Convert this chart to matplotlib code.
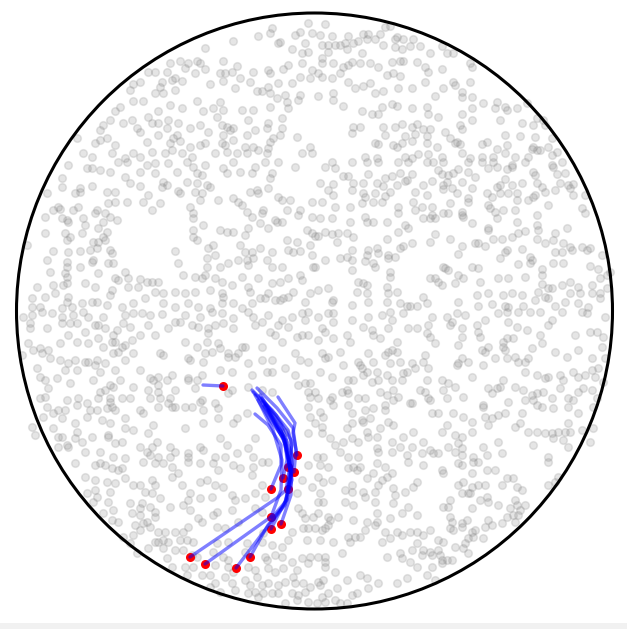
import numpy as np
import matplotlib
matplotlib.use('Agg')
import matplotlib.pyplot as plt
from matplotlib.patches import Circle, Rectangle

# canvas geometry, in pixels (y grows downward)
W, H = 627, 629
center = (314.5, 311.0)
radius = 298.0

# background particles: one list per 300x150 px tile, positions given
# in thirds of a pixel relative to the tile's upper-left corner
tile_origins = {'nw': (15, 10), 'ne': (315, 10), 'wn': (15, 160), 'en': (315, 160),
                'ws': (15, 310), 'es': (315, 310), 'sw': (15, 460), 'se': (315, 460)}

dots_nw = [770, 55, 765, 70, 795, 95, 840, 75, 855, 65, 890, 70, 880, 40, 730, 78, 655, 92, 790, 100,
           570, 115, 830, 118, 870, 100, 860, 130, 880, 125, 465, 160, 495, 152, 520, 160, 545, 152,
           555, 160, 570, 178, 625, 152, 665, 168, 400, 185, 420, 185, 455, 185, 510, 175, 540, 188,
           615, 188, 630, 188, 650, 185, 715, 185, 760, 180, 805, 178, 820, 165, 860, 160, 890, 180,
           375, 215, 355, 222, 440, 215, 470, 210, 480, 205, 500, 212, 585, 222, 625, 212, 675, 205,
           705, 215, 765, 190, 790, 220, 830, 220, 855, 200, 885, 205, 345, 240, 435, 232, 420, 250,
           445, 250, 480, 240, 660, 235, 725, 242, 740, 242, 760, 230, 765, 250, 810, 255, 855, 255,
           850, 270, 385, 272, 355, 272, 465, 285, 500, 295, 545, 272, 595, 295, 615, 275, 625, 300,
           565, 302, 680, 300, 715, 300, 765, 290, 815, 275, 820, 295, 785, 265, 315, 292, 300, 302,
           430, 302, 400, 320, 410, 340, 430, 340, 460, 330, 490, 340, 525, 355, 555, 345, 605, 320,
           620, 345, 635, 350, 645, 360, 700, 330, 760, 340, 800, 325, 800, 355, 755, 355, 285, 330,
           265, 345, 255, 360, 325, 340, 350, 330, 365, 355, 375, 365, 455, 355, 485, 375, 580, 365,
           625, 375, 655, 355, 695, 375, 720, 360, 795, 375, 775, 385, 845, 380, 185, 385, 240, 400,
           255, 390, 275, 385, 300, 405, 395, 395, 430, 375, 465, 400, 475, 385, 495, 392, 525, 410,
           555, 405, 570, 400, 620, 400, 630, 405, 655, 390, 690, 410, 715, 410, 765, 395, 760, 415,
           885, 410, 205, 430, 230, 440, 290, 430, 330, 445, 355, 430, 375, 440, 410, 425, 450, 430,
           470, 420, 500, 430, 530, 440, 600, 430, 635, 425, 665, 430, 695, 430, 730, 420, 755, 430,
           860, 430, 890, 430]

dots_ne = [30, 42, 15, 75, 50, 78, 100, 78, 145, 72, 160, 72, 195, 72, 210, 50, 225, 48, 245, 80,
           265, 88, 295, 88, 240, 88, 20, 105, 40, 105, 60, 105, 75, 105, 90, 100, 95, 118, 115, 100,
           130, 92, 155, 88, 180, 88, 205, 105, 240, 110, 260, 118, 285, 108, 315, 108, 345, 130,
           380, 108, 395, 130, 415, 130, 40, 125, 20, 145, 20, 160, 55, 160, 85, 170, 100, 165,
           110, 155, 140, 130, 135, 160, 165, 160, 190, 170, 230, 155, 255, 152, 265, 152, 305, 155,
           330, 170, 340, 185, 380, 178, 465, 160, 470, 170, 10, 190, 20, 200, 50, 205, 75, 190,
           100, 215, 120, 235, 145, 228, 165, 220, 215, 195, 235, 188, 255, 198, 330, 215, 385, 235,
           415, 215, 420, 225, 440, 245, 440, 260, 465, 215, 55, 250, 55, 270, 85, 288, 10, 258,
           180, 250, 205, 242, 250, 235, 290, 235, 360, 258, 470, 260, 505, 280, 545, 275, 540, 295,
           570, 290, 575, 300, 605, 295, 635, 280, 140, 302, 170, 312, 190, 312, 200, 290, 230, 282,
           245, 288, 290, 295, 335, 290, 340, 312, 370, 322, 440, 312, 470, 295, 470, 330, 115, 350,
           135, 350, 110, 370, 205, 350, 240, 350, 260, 342, 290, 350, 305, 342, 325, 358, 345, 358,
           390, 365, 435, 345, 440, 358, 555, 330, 620, 340, 655, 345, 665, 325, 685, 330, 690, 345,
           210, 375, 270, 378, 300, 372, 335, 378, 405, 385, 425, 395, 570, 375, 615, 378, 660, 382,
           710, 385, 180, 400, 190, 402, 235, 405, 245, 410, 260, 398, 290, 392, 335, 400, 365, 410,
           420, 400, 435, 402, 500, 402, 515, 395, 545, 418, 575, 405, 655, 410, 650, 418, 700, 410,
           725, 425, 150, 440, 185, 445, 270, 440, 290, 445, 310, 432, 340, 432, 380, 440, 440, 430,
           465, 445, 500, 440, 535, 440, 570, 430, 600, 440, 640, 440, 665, 420, 675, 420, 710, 435]

dots_wn = [160, 15, 215, 25, 230, 25, 255, 30, 285, 35, 310, 5, 335, 5, 375, 35, 395, 15, 420, 10,
           420, 40, 460, 10, 485, 35, 515, 5, 535, 20, 545, 40, 560, 45, 570, 15, 625, 25, 635, 40,
           655, 5, 675, 35, 710, 40, 720, 20, 750, 5, 770, 40, 790, 5, 840, 20, 140, 55, 140, 80,
           95, 100, 180, 100, 195, 95, 195, 85, 230, 78, 275, 95, 300, 95, 330, 50, 345, 70, 375, 78,
           400, 105, 385, 125, 435, 130, 445, 65, 440, 80, 455, 75, 490, 92, 495, 100, 515, 65,
           540, 95, 545, 70, 560, 100, 575, 75, 585, 80, 610, 120, 655, 115, 670, 125, 680, 135,
           705, 95, 725, 90, 730, 100, 760, 85, 765, 55, 790, 110, 800, 120, 825, 120, 890, 125,
           115, 150, 130, 140, 135, 148, 175, 150, 190, 140, 245, 150, 240, 160, 270, 160, 285, 170,
           280, 130, 300, 125, 335, 125, 410, 150, 525, 140, 535, 160, 555, 120, 535, 175, 695, 155,
           710, 170, 740, 160, 745, 150, 780, 180, 800, 185, 815, 150, 855, 150, 850, 165, 890, 170,
           90, 170, 140, 175, 155, 180, 160, 185, 205, 175, 210, 195, 250, 205, 265, 185, 275, 215,
           305, 180, 565, 195, 615, 210, 635, 215, 655, 215, 690, 225, 700, 205, 735, 190, 760, 205,
           785, 185, 875, 210, 890, 220, 90, 220, 150, 220, 165, 232, 155, 240, 200, 220, 235, 245,
           250, 245, 265, 232, 270, 240, 535, 210, 535, 230, 545, 240, 815, 240, 845, 245, 885, 255,
           35, 255, 115, 272, 160, 275, 195, 272, 225, 270, 245, 265, 285, 270, 290, 280, 480, 272,
           580, 265, 595, 255, 575, 295, 600, 285, 675, 255, 690, 275, 710, 275, 715, 295, 695, 300,
           670, 300, 735, 265, 770, 275, 820, 270, 835, 275, 855, 272, 890, 285, 95, 300, 155, 305,
           155, 320, 195, 320, 230, 305, 235, 300, 280, 310, 295, 310, 490, 310, 575, 320, 615, 320,
           640, 310, 700, 315, 755, 300, 770, 320, 800, 320, 895, 320, 105, 335, 150, 340, 155, 350,
           250, 340, 330, 335, 300, 355, 310, 360, 340, 355, 375, 358, 395, 365, 410, 365, 430, 365,
           505, 345, 540, 350, 560, 355, 570, 345, 600, 355, 620, 365, 650, 375, 680, 350, 730, 355,
           770, 370, 795, 365, 820, 355, 855, 345, 860, 360, 65, 380, 115, 375, 145, 375, 155, 370,
           210, 370, 240, 380, 290, 390, 285, 405, 340, 380, 370, 380, 420, 395, 445, 400, 480, 395,
           510, 400, 540, 395, 585, 390, 620, 400, 625, 410, 700, 380, 705, 395, 735, 415, 760, 400,
           795, 420, 780, 420, 805, 415, 820, 410, 835, 395, 885, 400, 50, 415, 90, 410, 120, 400,
           160, 410, 155, 425, 200, 430, 230, 425, 245, 425, 275, 435, 320, 440, 355, 430, 390, 415,
           445, 430, 480, 440, 520, 430, 550, 440, 585, 445, 620, 430, 655, 430, 680, 445, 710, 430,
           750, 415, 870, 425, 50, 440, 75, 440, 140, 445, 170, 440]

dots_en = [50, 5, 110, 5, 155, 5, 190, 5, 250, 5, 280, 5, 335, 5, 355, 5, 385, 5, 460, 5, 500, 5,
           535, 5, 590, 15, 630, 5, 710, 15, 740, 5, 30, 20, 60, 25, 85, 48, 100, 48, 160, 42,
           210, 55, 230, 48, 255, 40, 270, 62, 290, 42, 370, 30, 380, 42, 400, 45, 415, 40, 430, 28,
           460, 35, 480, 50, 520, 25, 545, 22, 575, 28, 590, 22, 655, 35, 660, 45, 725, 42, 750, 40,
           715, 20, 15, 70, 55, 72, 115, 70, 145, 70, 185, 68, 205, 78, 245, 75, 275, 60, 325, 75,
           350, 62, 385, 75, 395, 65, 440, 65, 470, 85, 515, 100, 545, 80, 555, 75, 570, 58, 590, 75,
           620, 70, 665, 70, 680, 80, 690, 95, 720, 90, 735, 70, 760, 75, 775, 72, 765, 85, 775, 105,
           810, 105, 40, 90, 55, 105, 110, 90, 145, 100, 150, 110, 180, 100, 210, 108, 225, 95,
           300, 95, 335, 105, 385, 88, 410, 85, 425, 100, 460, 115, 530, 110, 555, 100, 580, 100,
           605, 100, 605, 120, 640, 120, 655, 110, 660, 105, 20, 125, 60, 140, 105, 140, 140, 130,
           175, 125, 200, 125, 250, 140, 250, 160, 295, 125, 300, 150, 320, 140, 350, 140, 405, 130,
           440, 155, 445, 170, 460, 125, 520, 135, 525, 145, 540, 155, 565, 150, 600, 150, 545, 175,
           665, 165, 700, 135, 800, 145, 810, 160, 15, 175, 50, 175, 105, 185, 150, 170, 155, 185,
           175, 185, 215, 185, 270, 195, 280, 205, 325, 175, 345, 175, 350, 165, 360, 175, 385, 160,
           400, 160, 440, 165, 470, 190, 520, 205, 520, 210, 605, 185, 665, 195, 670, 210, 720, 220,
           755, 205, 0, 228, 10, 228, 30, 215, 50, 222, 70, 218, 95, 220, 115, 232, 65, 245, 215, 238,
           250, 215, 290, 250, 345, 245, 360, 222, 405, 238, 440, 258, 480, 248, 490, 248, 510, 258,
           535, 238, 560, 238, 590, 230, 610, 218, 630, 212, 665, 238, 690, 250, 715, 240, 745, 248,
           765, 260, 800, 262, 815, 270, 110, 270, 160, 270, 185, 265, 155, 285, 190, 278, 255, 265,
           265, 258, 430, 282, 555, 295, 570, 275, 575, 270, 620, 268, 645, 290, 650, 300, 720, 275,
           740, 275, 770, 270, 825, 265, 860, 285, 30, 300, 75, 295, 95, 292, 110, 300, 150, 302,
           175, 310, 180, 320, 220, 285, 220, 295, 240, 292, 385, 320, 390, 325, 400, 330, 470, 320,
           490, 325, 610, 312, 645, 310, 680, 328, 715, 310, 745, 310, 825, 318, 850, 328, 0, 322,
           110, 330, 225, 335, 225, 350, 345, 355, 360, 355, 370, 365, 380, 375, 430, 345, 445, 355,
           495, 365, 550, 355, 580, 355, 630, 350, 680, 345, 680, 372, 700, 385, 740, 375, 765, 365,
           790, 380, 830, 375, 855, 355, 875, 345, 885, 335, 10, 390, 40, 385, 130, 365, 145, 370,
           155, 375, 125, 395, 155, 400, 215, 380, 220, 400, 245, 395, 325, 410, 420, 370, 485, 405,
           520, 400, 565, 405, 590, 400, 620, 405, 670, 395, 690, 410, 710, 385, 765, 400, 795, 400,
           830, 400, 855, 400, 875, 385, 55, 420, 50, 425, 110, 435, 160, 425, 215, 425, 255, 430,
           275, 438, 285, 438, 305, 438, 335, 430, 430, 425, 490, 438, 530, 432, 570, 438, 580, 442,
           625, 438, 660, 420, 700, 415, 720, 438, 750, 425, 790, 430, 820, 440, 855, 415]

dots_ws = [25, 20, 50, 15, 80, 5, 110, 10, 140, 20, 175, 15, 205, 5, 220, 20, 265, 20, 330, 15,
           355, 10, 380, 10, 405, 15, 440, 12, 480, 35, 495, 35, 510, 15, 555, 20, 590, 5, 620, 10,
           655, 25, 700, 5, 715, 20, 740, 35, 760, 15, 800, 30, 830, 20, 860, 10, 880, 5, 45, 40,
           45, 55, 95, 55, 140, 40, 165, 40, 185, 40, 210, 65, 240, 45, 250, 45, 270, 55, 295, 75,
           305, 60, 325, 40, 345, 50, 375, 75, 400, 45, 420, 75, 460, 55, 530, 45, 550, 50, 580, 55,
           580, 70, 600, 45, 625, 40, 655, 55, 720, 45, 765, 65, 780, 75, 790, 45, 820, 50, 870, 30,
           860, 75, 880, 75, 40, 100, 55, 120, 75, 115, 100, 120, 135, 100, 160, 75, 185, 95,
           220, 100, 250, 85, 265, 110, 290, 95, 300, 95, 320, 110, 350, 90, 330, 105, 510, 95,
           545, 110, 575, 95, 610, 100, 615, 115, 680, 110, 690, 110, 740, 110, 800, 95, 845, 80,
           20, 135, 80, 130, 105, 145, 135, 150, 160, 160, 180, 150, 210, 155, 220, 155, 245, 150,
           270, 160, 295, 130, 310, 125, 330, 150, 355, 130, 435, 130, 445, 135, 525, 150, 520, 145,
           565, 155, 570, 130, 590, 125, 640, 130, 640, 140, 660, 140, 670, 130, 700, 160, 740, 150,
           770, 150, 840, 130, 855, 150, 880, 155, 65, 175, 75, 200, 150, 180, 185, 180, 240, 165,
           255, 185, 300, 180, 375, 180, 405, 205, 415, 210, 430, 200, 455, 210, 470, 195, 520, 205,
           545, 210, 560, 195, 615, 180, 650, 185, 710, 195, 755, 185, 770, 185, 810, 175, 840, 195,
           870, 220, 885, 220, 90, 210, 100, 235, 125, 205, 165, 220, 235, 210, 270, 240, 255, 245,
           295, 230, 285, 225, 315, 210, 355, 230, 400, 240, 430, 225, 430, 245, 480, 240, 520, 210,
           540, 235, 650, 240, 700, 230, 740, 240, 770, 245, 850, 225, 880, 245, 75, 265, 90, 260,
           155, 270, 190, 265, 215, 280, 250, 265, 285, 265, 285, 275, 320, 265, 345, 265, 405, 265,
           435, 265, 460, 280, 465, 265, 480, 290, 510, 290, 560, 270, 555, 275, 600, 280, 610, 295,
           640, 250, 885, 260, 95, 290, 130, 300, 150, 300, 185, 285, 225, 300, 245, 300, 275, 295,
           290, 290, 300, 300, 375, 300, 385, 310, 430, 290, 470, 290, 530, 290, 565, 300, 695, 310,
           665, 325, 880, 290, 885, 320, 85, 320, 115, 310, 140, 325, 215, 320, 260, 330, 285, 340,
           330, 325, 330, 355, 355, 360, 400, 370, 415, 345, 510, 355, 565, 340, 610, 325, 655, 340,
           720, 385, 810, 365, 880, 370, 50, 350, 60, 375, 115, 355, 130, 380, 140, 380, 155, 405,
           180, 340, 185, 365, 180, 385, 230, 380, 280, 380, 280, 375, 300, 400, 320, 395, 375, 410,
           410, 410, 425, 395, 465, 410, 480, 425, 520, 430, 565, 420, 600, 440, 615, 385, 635, 405,
           130, 410, 160, 410, 200, 395, 210, 425, 255, 425, 295, 440, 330, 445, 395, 425, 405, 435,
           430, 440, 465, 440, 520, 440, 555, 410, 630, 440, 665, 430, 700, 415, 715, 440]

dots_es = [10, 20, 40, 10, 55, 10, 55, 35, 110, 30, 160, 20, 200, 15, 225, 5, 230, 30, 265, 10,
           350, 20, 395, 20, 410, 35, 425, 10, 450, 15, 485, 45, 510, 30, 550, 10, 575, 5, 610, 5,
           580, 35, 605, 50, 645, 5, 675, 5, 700, 45, 710, 30, 740, 5, 800, 5, 815, 10, 870, 20,
           20, 55, 30, 65, 10, 90, 55, 85, 95, 75, 105, 95, 145, 50, 170, 60, 175, 75, 195, 85,
           220, 55, 245, 95, 280, 55, 305, 55, 340, 45, 335, 70, 345, 80, 360, 100, 405, 45, 430, 105,
           440, 55, 440, 80, 490, 65, 495, 80, 520, 110, 565, 95, 575, 85, 565, 110, 595, 85, 570, 120,
           635, 60, 675, 75, 680, 100, 780, 75, 825, 65, 845, 65, 865, 80, 20, 130, 30, 145, 40, 140,
           75, 125, 85, 165, 130, 155, 135, 165, 140, 175, 145, 195, 160, 130, 175, 155, 185, 185,
           210, 135, 220, 125, 230, 120, 245, 125, 255, 155, 225, 160, 265, 190, 275, 185, 290, 160,
           300, 175, 330, 135, 325, 155, 340, 175, 425, 165, 430, 160, 440, 145, 460, 155, 500, 120,
           510, 125, 505, 165, 540, 145, 575, 145, 600, 140, 610, 155, 630, 155, 640, 145, 650, 115,
           720, 125, 755, 140, 790, 120, 830, 145, 860, 110, 870, 145, 15, 185, 50, 200, 100, 210,
           115, 210, 155, 185, 190, 210, 215, 195, 230, 210, 260, 210, 335, 210, 380, 210, 400, 220,
           420, 230, 470, 200, 565, 210, 600, 230, 625, 240, 630, 185, 665, 195, 690, 205, 700, 200,
           735, 195, 745, 210, 775, 185, 790, 200, 810, 195, 830, 180, 840, 200, 850, 175, 865, 215,
           0, 245, 10, 265, 45, 270, 50, 260, 80, 245, 95, 240, 100, 250, 130, 265, 150, 265, 170, 215,
           195, 245, 215, 255, 235, 240, 235, 270, 250, 260, 285, 280, 315, 240, 330, 245, 340, 265,
           345, 270, 385, 240, 395, 265, 445, 260, 505, 285, 520, 235, 530, 250, 545, 235, 555, 230,
           580, 275, 630, 270, 650, 255, 665, 250, 655, 270, 685, 245, 710, 265, 735, 235, 760, 265,
           775, 270, 790, 245, 805, 235, 830, 240, 845, 265, 15, 305, 25, 320, 55, 285, 100, 285,
           110, 310, 140, 330, 145, 335, 150, 300, 175, 295, 210, 300, 210, 285, 220, 335, 235, 345,
           290, 280, 350, 310, 370, 310, 415, 310, 445, 320, 470, 335, 505, 290, 510, 320, 530, 325,
           550, 315, 570, 310, 620, 310, 665, 285, 680, 290, 715, 295, 760, 290, 790, 310, 835, 290,
           0, 340, 20, 350, 20, 370, 95, 355, 110, 340, 155, 365, 165, 325, 195, 355, 185, 380,
           230, 395, 265, 380, 295, 365, 380, 365, 395, 345, 420, 375, 440, 380, 470, 365, 520, 345,
           600, 350, 615, 340, 640, 365, 665, 365, 690, 370, 710, 370, 730, 365, 750, 365, 765, 365,
           760, 340, 800, 360, 835, 355, 45, 385, 60, 405, 85, 395, 110, 385, 130, 395, 160, 380,
           185, 415, 190, 425, 230, 425, 255, 410, 290, 410, 325, 395, 355, 430, 370, 430, 400, 410,
           430, 400, 440, 415, 505, 410, 550, 395, 560, 430, 655, 405, 715, 385, 745, 390, 760, 410,
           825, 395, 5, 440, 25, 440, 75, 425, 100, 440, 130, 440, 275, 435, 320, 430, 345, 420,
           420, 425, 440, 435, 475, 440, 515, 435, 700, 440]

dots_sw = [180, 10, 240, 15, 255, 10, 270, 15, 290, 25, 310, 30, 320, 25, 385, 5, 420, 10, 445, 10,
           470, 20, 520, 5, 555, 10, 595, 10, 610, 30, 655, 15, 675, 25, 715, 20, 740, 5, 760, 5,
           880, 15, 210, 50, 240, 60, 275, 65, 300, 70, 330, 55, 355, 75, 375, 75, 410, 60, 420, 75,
           470, 50, 490, 40, 500, 75, 555, 65, 575, 60, 600, 75, 625, 80, 710, 45, 740, 75, 860, 60,
           215, 100, 240, 90, 245, 110, 235, 125, 285, 95, 280, 125, 390, 95, 410, 100, 435, 115,
           525, 100, 520, 120, 555, 115, 590, 110, 650, 105, 720, 100, 750, 110, 845, 100, 890, 80,
           265, 160, 295, 150, 310, 185, 345, 130, 350, 160, 375, 145, 375, 165, 380, 130, 385, 190,
           405, 140, 420, 155, 420, 170, 465, 140, 505, 135, 525, 150, 550, 175, 595, 165, 605, 155,
           650, 150, 660, 120, 690, 115, 720, 145, 740, 155, 850, 145, 860, 160, 870, 175, 880, 205,
           895, 170, 290, 180, 360, 195, 395, 185, 405, 200, 430, 215, 450, 215, 480, 215, 505, 215,
           520, 200, 560, 185, 605, 200, 630, 205, 670, 185, 745, 220, 830, 215, 865, 205, 325, 230,
           355, 225, 375, 210, 345, 250, 400, 265, 420, 245, 430, 245, 445, 240, 460, 245, 480, 270,
           495, 240, 515, 240, 535, 245, 605, 250, 640, 245, 695, 250, 740, 245, 770, 255, 800, 260,
           820, 240, 875, 240, 365, 280, 445, 265, 455, 295, 505, 270, 530, 285, 545, 290, 595, 275,
           625, 290, 640, 300, 690, 275, 750, 290, 755, 300, 780, 285, 800, 290, 830, 305, 860, 295,
           885, 290, 470, 320, 510, 320, 535, 320, 600, 315, 640, 320, 655, 335, 700, 320, 720, 330,
           760, 325, 780, 335, 805, 325, 845, 330, 880, 310, 515, 345, 560, 345, 585, 345, 600, 370,
           630, 350, 650, 370, 690, 360, 705, 375, 725, 350, 740, 375, 760, 370, 790, 375, 810, 365,
           835, 350, 840, 370, 865, 370, 885, 380, 585, 380, 615, 395, 660, 390, 700, 400, 720, 395,
           730, 410, 745, 400, 770, 400, 790, 400, 830, 400, 850, 405, 870, 395, 810, 430, 845, 420,
           880, 425]

dots_se = [15, 15, 40, 20, 100, 25, 115, 20, 125, 30, 135, 20, 155, 55, 175, 40, 185, 10, 210, 20,
           230, 40, 280, 5, 325, 15, 380, 30, 385, 40, 430, 10, 440, 15, 470, 40, 475, 5, 490, 5,
           515, 30, 540, 30, 700, 5, 10, 50, 25, 65, 50, 60, 90, 90, 110, 75, 110, 95, 145, 95,
           150, 110, 180, 95, 190, 75, 200, 60, 215, 50, 240, 105, 235, 85, 270, 95, 295, 80, 305, 65,
           430, 75, 445, 65, 465, 100, 470, 80, 490, 75, 510, 75, 560, 75, 575, 55, 595, 55, 605, 80,
           620, 90, 700, 75, 720, 65, 730, 50, 15, 100, 25, 125, 10, 125, 90, 125, 115, 135, 180, 125,
           235, 130, 280, 140, 385, 140, 405, 120, 400, 140, 440, 100, 460, 100, 470, 145, 495, 120,
           515, 110, 520, 125, 550, 135, 585, 145, 600, 120, 605, 135, 630, 135, 615, 150, 610, 165,
           10, 160, 40, 170, 45, 180, 70, 170, 115, 180, 155, 185, 185, 160, 185, 185, 180, 195,
           225, 175, 260, 160, 305, 165, 405, 170, 410, 185, 455, 180, 440, 190, 470, 215, 520, 180,
           530, 195, 560, 190, 575, 170, 600, 185, 595, 165, 0, 205, 20, 210, 30, 205, 40, 195,
           15, 240, 55, 245, 100, 230, 105, 245, 120, 230, 135, 230, 150, 210, 200, 245, 210, 215,
           225, 235, 245, 215, 260, 225, 285, 215, 305, 215, 325, 225, 345, 210, 370, 240, 385, 245,
           405, 205, 415, 210, 440, 200, 450, 250, 460, 235, 475, 230, 480, 210, 505, 235, 510, 200,
           10, 290, 30, 290, 30, 305, 30, 320, 80, 280, 215, 290, 255, 280, 260, 295, 285, 305,
           290, 270, 305, 250, 320, 285, 325, 270, 345, 275, 350, 285, 370, 270, 375, 285, 380, 300,
           380, 310, 395, 300, 410, 300, 420, 260, 445, 265, 460, 280, 10, 365, 25, 360, 60, 335,
           95, 360, 135, 345, 155, 355, 160, 385, 125, 400, 65, 385, 40, 400, 20, 410, 60, 420,
           95, 430, 110, 405, 190, 370, 245, 370, 275, 355, 305, 320, 335, 345, 350, 320, 360, 360,
           15, 375, 5, 430, 30, 425, 75, 430]

tiles = [('nw', dots_nw), ('ne', dots_ne), ('wn', dots_wn), ('en', dots_en),
         ('ws', dots_ws), ('es', dots_es), ('sw', dots_sw), ('se', dots_se)]

# tracked particle paths; the last vertex is the current position
track_x = [
    [203, 223],
    [278, 295, 293, 297],
    [252, 272, 288, 292, 288],
    [257, 277, 293, 296, 294],
    [255, 270, 285, 287, 283],
    [255, 268, 281, 281, 271],
    [253, 276, 291, 292, 288],
    [258, 273, 282, 281, 271],
    [262, 281, 292, 291, 281],
    [265, 286, 290, 286, 271],
    [260, 281, 290, 286, 277, 190],
    [262, 283, 292, 287, 275, 205],
    [268, 286, 292, 284, 268, 250],
    [264, 284, 291, 285, 265, 236],
]
track_y = [
    [385, 386],
    [397, 423, 433, 455],
    [390, 410, 430, 445, 467],
    [388, 408, 428, 450, 472],
    [395, 420, 440, 460, 478],
    [414, 425, 445, 465, 489],
    [392, 415, 440, 465, 489],
    [400, 430, 460, 490, 517],
    [398, 425, 455, 495, 524],
    [405, 440, 470, 500, 529],
    [395, 430, 465, 490, 498, 557],
    [402, 435, 470, 500, 514, 564],
    [410, 445, 480, 505, 525, 557],
    [406, 440, 475, 505, 530, 568],
]

fig = plt.figure(figsize=(W / 100, H / 100), dpi=100)
fig.patch.set_facecolor('white')
ax = fig.add_axes([0, 0, 1, 1])
ax.set_xlim(0, W)
ax.set_ylim(H, 0)
ax.axis('off')

# light strip along the bottom edge
ax.add_patch(Rectangle((0, 623), W, 6, facecolor='#f1f1f1', edgecolor='none', zorder=0))

# background particles
for key, vals in tiles:
    ox, oy = tile_origins[key]
    pts = np.asarray(vals, dtype=float).reshape(-1, 2) / 3.0
    ax.scatter(pts[:, 0] + ox, pts[:, 1] + oy, s=30, c='gray', alpha=0.2,
               linewidths=1.1, zorder=1)

# domain boundary
ax.add_patch(Circle(center, radius, facecolor='none', edgecolor='black',
                    linewidth=2.2, zorder=2))

# current positions, then the paths drawn over them
end_x = [tx[-1] for tx in track_x]
end_y = [ty[-1] for ty in track_y]
ax.plot(end_x, end_y, 'o', color='red', markersize=6.5, markeredgewidth=0, zorder=3)
for tx, ty in zip(track_x, track_y):
    ax.plot(tx, ty, '-', color='blue', alpha=0.5, linewidth=2.4,
            solid_capstyle='round', zorder=4)

fig.savefig('out.png', dpi=100)
